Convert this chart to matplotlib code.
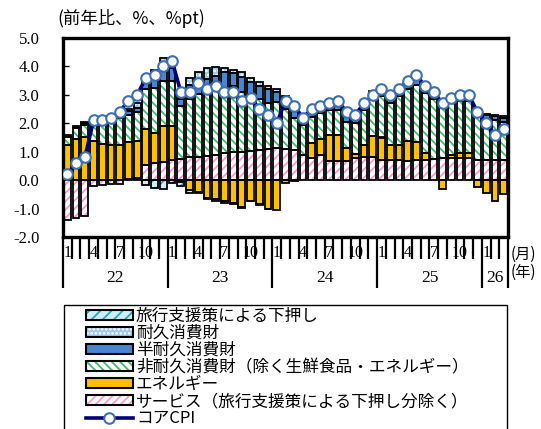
import matplotlib
matplotlib.use('Agg')
import matplotlib.pyplot as plt
import numpy as np
from matplotlib.patches import Patch, Rectangle
from matplotlib.lines import Line2D
from matplotlib.legend_handler import HandlerTuple

# ---------------- data (Jan 2022 - Mar 2026, monthly, %pt) ----------------
years = ['22', '23', '24', '25', '26']
months = [1, 2, 3, 4, 5, 6, 7, 8, 9, 10, 11, 12] * 4 + [1, 2, 3]

services = [-1.40, -1.32, -1.25, -0.20, -0.18, -0.15, -0.12, 0.03, 0.08, 0.55, 0.60, 0.65,
            0.70, 0.75, 0.80, 0.82, 0.85, 0.88, 0.95, 0.98, 1.00, 1.02, 1.05, 1.08,
            1.12, 1.10, 1.05, 0.88, 0.78, 0.90, 0.68, 0.68, 0.68, 0.78, 0.80, 0.82,
            0.70, 0.72, 0.72, 0.66, 0.70, 0.70, 0.75, 0.78, 0.78, 0.78, 0.78, 0.70,
            0.70, 0.70, 0.72]
travel = [0, 0, 0, 0, 0, 0, 0, 0, 0, -0.17, -0.27, -0.30,
          -0.10, -0.15, -0.10, -0.06, -0.05, -0.08, -0.04, -0.03, -0.03, -0.02, -0.02, -0.02,
          0, 0, 0, 0, 0, 0, 0, 0, 0, 0, 0, 0,
          0, 0, 0, 0, 0, 0, 0, 0, 0, 0, 0, 0,
          0, 0, 0]
energy = [1.25, 1.45, 1.50, 1.38, 1.27, 1.25, 1.25, 1.30, 1.30, 1.25, 1.06, 1.27,
          1.20, -0.05, -0.35, -0.40, -0.62, -0.65, -0.75, -0.80, -0.95, -0.72, -0.85, -1.00,
          -1.05, -0.10, -0.03, 0.02, 0.52, 0.55, 0.90, 0.92, 0.45, 0.15, 0.42, 0.75,
          0.80, 0.50, 0.50, 0.70, 0.63, 0.27, 0.00, -0.30, 0.12, 0.17, 0.17, -0.25,
          -0.45, -0.75, -0.50]
nondurable = [0.28, 0.40, 0.45, 0.60, 0.70, 0.75, 0.95, 0.97, 1.02, 1.40, 1.59, 1.58,
              1.60, 1.85, 2.05, 2.20, 2.35, 2.38, 2.25, 2.32, 2.10, 1.97, 1.80, 1.65,
              1.63, 1.40, 1.15, 1.05, 0.92, 0.90, 0.87, 0.85, 0.92, 1.07, 1.23, 1.28,
              1.45, 1.48, 1.73, 1.84, 2.02, 2.08, 2.10, 1.94, 1.85, 1.85, 1.85, 1.60,
              1.45, 1.40, 1.33]
semidurable = [0.05, 0.05, 0.07, 0.05, 0.05, 0.08, 0.10, 0.12, 0.15, 0.25, 0.45, 0.60,
               0.45, 0.25, 0.50, 0.53, 0.36, 0.42, 0.60, 0.47, 0.52, 0.45, 0.45, 0.47,
               0.35, 0.35, 0.30, 0.25, 0.27, 0.25, 0.23, 0.22, 0.33, 0.32, 0.30, 0.22,
               0.20, 0.20, 0.20, 0.20, 0.22, 0.15, 0.15, 0.12, 0.12, 0.15, 0.13, 0.15,
               0.14, 0.15, 0.15]
durable = [0.00, 0.00, 0.03, 0.00, 0.00, 0.02, 0.05, 0.08, 0.18, 0.23, 0.18, 0.20,
           0.15, 0.10, 0.23, 0.27, 0.38, 0.29, 0.14, 0.12, 0.17, 0.14, 0.14, 0.12,
           0.10, 0.10, 0.08, 0.05, 0.05, 0.05, 0.05, 0.03, 0.05, 0.05, 0.05, 0.05,
           0.05, 0.06, 0.05, 0.04, 0.05, 0.05, 0.05, 0.03, 0.03, 0.05, 0.04, 0.04,
           0.04, 0.04, 0.05]
core_cpi = [0.2, 0.6, 0.8, 2.1, 2.1, 2.2, 2.4, 2.8, 3.0, 3.6, 3.7, 4.0,
            4.2, 3.1, 3.1, 3.4, 3.2, 3.3, 3.1, 3.1, 2.8, 2.9, 2.5, 2.3,
            2.0, 2.8, 2.6, 2.2, 2.5, 2.6, 2.7, 2.8, 2.4, 2.3, 2.7, 3.0,
            3.2, 3.0, 3.2, 3.5, 3.7, 3.3, 3.1, 2.7, 2.9, 3.0, 3.0, 2.4,
            2.0, 1.6, 1.8]

labels = ['旅行支援策による下押し', '耐久消費財', '半耐久消費財',
          '非耐久消費財（除く生鮮食品・エネルギー）', 'エネルギー',
          'サービス（旅行支援策による下押し分除く）', 'コアCPI']

# ---------------- figure ----------------
plt.rcParams['font.family'] = ['Noto Sans CJK JP', 'DejaVu Sans']
plt.rcParams['hatch.linewidth'] = 1.3

W, H = 541, 429
fig = plt.figure(figsize=(W / 100, H / 100), dpi=100)
L, R, T, B = 63, 508, 38, 237
ax = fig.add_axes([L / W, 1 - B / H, (R - L) / W, (B - T) / H])

n = len(core_cpi)
x = np.arange(n)
bw = 0.78
pos_base = np.zeros(n)
neg_base = np.zeros(n)

# stacking order (bottom -> top): services, energy, nondurable, semidurable, durable, travel
styles = {
    'svc': dict(face='white', hcol='#FF9ACB', hatch='////'),
    'energy': dict(face='#FFC000', hcol='#FFC000', hatch=None),
    'nondur': dict(face='white', hcol='#3CBF6E', hatch='\\\\\\\\'),
    'semi': dict(face='#4A86CF', hcol='#4A86CF', hatch=None),
    'dur': dict(face='#9CC7F0', hcol='white', hatch='....'),
    'travel': dict(face='#CDEFF6', hcol='#2FA3C4', hatch='///'),
}
series = [('svc', services), ('energy', energy), ('nondur', nondurable),
          ('semi', semidurable), ('dur', durable), ('travel', travel)]

for key, vals in series:
    v = np.array(vals, dtype=float)
    bottoms = np.where(v >= 0, pos_base, neg_base)
    m = v != 0
    st = styles[key]
    ax.bar(x[m], v[m], bw, bottom=bottoms[m], color=st['face'], edgecolor=st['hcol'],
           hatch=st['hatch'], linewidth=0, zorder=2)
    ax.bar(x[m], v[m], bw, bottom=bottoms[m], fill=False, edgecolor='black',
           linewidth=1.3, zorder=3)
    pos_base = pos_base + np.where(v > 0, v, 0)
    neg_base = neg_base + np.where(v < 0, v, 0)

ax.plot(x, core_cpi, color='#00007A', linewidth=2.6, marker='o', markersize=7.6,
        markerfacecolor='white', markeredgecolor='#3C6FB4', markeredgewidth=1.5, zorder=5)

ax.set_xlim(-0.5, n - 0.5)
ax.set_ylim(-2, 5)
ax.set_yticks(np.arange(-2, 6, 1))
ax.set_yticklabels([f'{v:.1f}' for v in np.arange(-2, 6, 1)],
                   fontfamily='Liberation Serif', fontsize=12)
ax.tick_params(axis='y', direction='in', length=4, width=1, pad=17)
for s in ax.spines.values():
    s.set_linewidth(2.4)

# x axis: month boundaries (minor) and year boundaries (major)
bounds = np.arange(n + 1) - 0.5
year_bounds = [-0.5, 11.5, 23.5, 35.5, 47.5, n - 0.5]
ax.set_xticks(bounds, minor=True)
ax.set_xticks(year_bounds)
ax.set_xticklabels([])
ax.tick_params(axis='x', which='minor', direction='out', length=16, width=1.6)
ax.tick_params(axis='x', which='major', direction='out', length=37, width=1.6)

xt = ax.get_xaxis_transform()
for i, mth in enumerate(months):
    if mth in (1, 4, 7, 10):
        ax.text(i, -0.082, str(mth), transform=xt, ha='center', va='center',
                fontfamily='Liberation Serif', fontsize=11.5)
for k, yl in enumerate(years):
    c = (year_bounds[k] + year_bounds[k + 1]) / 2
    ax.text(c, -0.205, yl, transform=xt, ha='center', va='center',
            fontfamily='Liberation Serif', fontsize=12.5)

fig.text(511 / W, 1 - 254 / H, '(月)', ha='left', va='center', fontsize=11)
fig.text(511 / W, 1 - 272 / H, '(年)', ha='left', va='center', fontsize=11)
fig.text(57 / W, 1 - 18 / H, '(前年比、%、%pt)', ha='left', va='center', fontsize=12.5)

# ---------------- legend ----------------
def ph(key):
    st = styles[key]
    a = Patch(facecolor=st['face'], edgecolor=st['hcol'], hatch=st['hatch'], linewidth=0)
    b = Patch(fill=False, edgecolor='black', linewidth=1.5)
    return (a, b)

handles = [ph('travel'), ph('dur'), ph('semi'), ph('nondur'), ph('energy'), ph('svc'),
           Line2D([], [], color='#00007A', linewidth=2.6, marker='o', markersize=7.6,
                  markerfacecolor='white', markeredgecolor='#3C6FB4', markeredgewidth=1.5)]
leg = fig.legend(handles, labels, loc='upper left',
                 bbox_to_anchor=(86 / W, 1 - 308 / H),
                 borderaxespad=0, fontsize=12, frameon=False,
                 handlelength=2.8, handleheight=0.5,
                 handletextpad=0.2, labelspacing=0.0, borderpad=0,
                 handler_map={tuple: HandlerTuple(ndivide=1)})
fig.add_artist(Rectangle((64 / W, -0.1), (507 - 64) / W, (1 - 305 / H) + 0.1,
                         transform=fig.transFigure, fill=False, edgecolor='black',
                         linewidth=1.0))

fig.savefig('out.png', dpi=100)
